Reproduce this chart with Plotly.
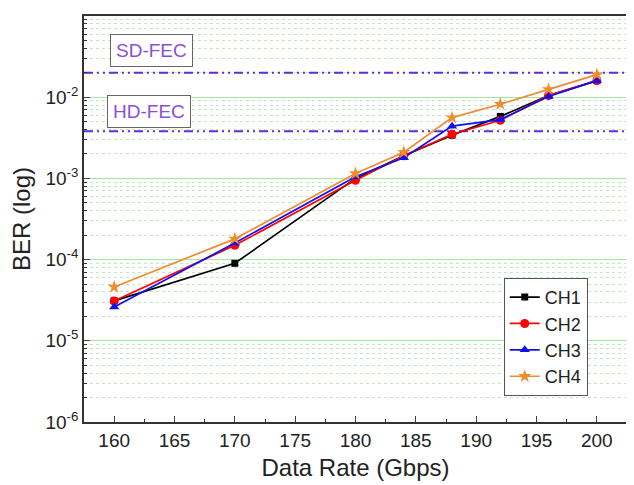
import plotly.graph_objects as go

rates = [160, 170, 180, 184, 188, 192, 196, 200]
ch1 = [3.1e-5, 9.0e-5, 1.0e-3, 1.9e-3, 3.4e-3, 5.8e-3, 1.05e-2, 1.6e-2]
ch2 = [3.1e-5, 1.5e-4, 9.5e-4, 1.9e-3, 3.5e-3, 5.2e-3, 1.05e-2, 1.6e-2]
ch3 = [2.6e-5, 1.6e-4, 1.05e-3, 1.8e-3, 4.4e-3, 5.3e-3, 1.02e-2, 1.6e-2]
ch4 = [4.6e-5, 1.8e-4, 1.15e-3, 2.1e-3, 5.6e-3, 8.2e-3, 1.25e-2, 1.9e-2]
names = ["CH1", "CH2", "CH3", "CH4"]
sd_fec = 2.0e-2
hd_fec = 3.8e-3
y_tickvals = [1e-6, 1e-5, 1e-4, 1e-3, 1e-2, 1e-1]
y_ticktext = ["10<sup>-6</sup>", "10<sup>-5</sup>", "10<sup>-4</sup>", "10<sup>-3</sup>", "10<sup>-2</sup>", "10<sup>-1</sup>"]
y_minor = [k * 10.0 ** e for e in range(-6, -1) for k in range(2, 10)]
x_tickvals = [160, 165, 170, 175, 180, 185, 190, 195, 200]
x_minor = [157.5, 162.5, 167.5, 172.5, 177.5, 182.5, 187.5, 192.5, 197.5, 202.5]

series = [ch1, ch2, ch3, ch4]
colors = ["#000000", "#ff0000", "#1010ee", "#f08c30"]
symbols = ["square", "circle", "triangle-up", "star"]
sizes = [7, 9, 9, 10]

fig = go.Figure()
fec_color = "#5f2cd8"
for yv in [sd_fec, hd_fec]:
    fig.add_trace(go.Scatter(x=[157.5, 202.5], y=[yv, yv], mode="lines",
                             line=dict(color=fec_color, width=2, dash="9px,4px,2px,4px,2px,4px"),
                             showlegend=False, hoverinfo="skip"))

for s, n, c, sym, sz in zip(series, names, colors, symbols, sizes):
    fig.add_trace(go.Scatter(x=rates, y=s, name=n, mode="lines+markers",
                             line=dict(color=c, width=1.7),
                             marker=dict(symbol=sym, size=sz, color=c)))

afont = dict(size=19, color="#8a4fd8", family="Liberation Sans, Arial")
fig.add_annotation(x=163.1, y=-1.42, xref="x", yref="y", text="SD-FEC",
                   showarrow=False, font=afont,
                   bordercolor="#666666", borderwidth=1, borderpad=5, bgcolor="white")
fig.add_annotation(x=162.9, y=-2.18, xref="x", yref="y", text="HD-FEC",
                   showarrow=False, font=afont,
                   bordercolor="#666666", borderwidth=1, borderpad=5, bgcolor="white")

fig.update_layout(
    width=634, height=485,
    margin=dict(l=76, r=15, t=8, b=71),
    paper_bgcolor="white", plot_bgcolor="white",
    font=dict(family="Liberation Sans, Arial", size=19, color="#222222"),
    showlegend=True,
    legend=dict(x=0.773, y=0.355, xanchor="left", yanchor="top",
                bordercolor="#555555", borderwidth=1, bgcolor="white",
                font=dict(size=18), itemwidth=30, tracegroupgap=0),
    xaxis=dict(range=[157.5, 202.5], tickvals=x_tickvals, ticks="inside", ticklen=6,
               showline=True, linecolor="#333333", linewidth=1.5, mirror=True,
               showgrid=False, zeroline=False, automargin=False,
               tickfont=dict(size=19),
               minor=dict(tickvals=x_minor, ticks="inside", ticklen=3, tickcolor="#333333",
                          showgrid=False),
               title=dict(text="Data Rate (Gbps)", font=dict(size=24), standoff=10)),
    yaxis=dict(type="log", range=[-6, -1], tickvals=y_tickvals, ticktext=y_ticktext,
               ticks="inside", ticklen=6, showline=True, linecolor="#333333", linewidth=1.5,
               mirror=True, showgrid=True, gridcolor="#9fe69f", gridwidth=1, zeroline=False,
               automargin=False, tickfont=dict(size=19),
               minor=dict(tickvals=y_minor, ticks="inside", ticklen=3, tickcolor="#333333",
                          showgrid=True, gridcolor="#c4e6c4", griddash="dot", gridwidth=1),
               title=dict(text="BER (log)", font=dict(size=24), standoff=8)),
)
fig.write_html("out.html")
